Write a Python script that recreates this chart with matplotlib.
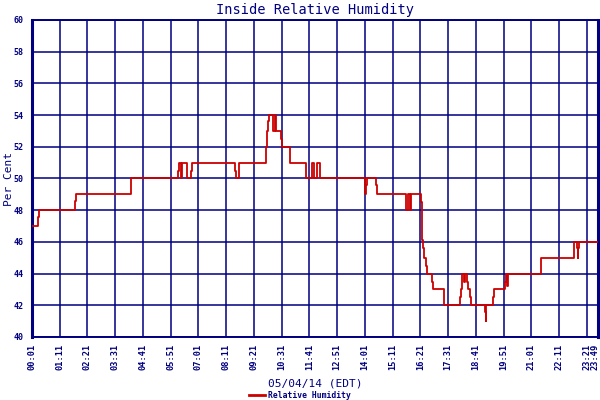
import matplotlib
matplotlib.use("Agg")
import matplotlib.pyplot as plt
import matplotlib.transforms as mtransforms
from matplotlib.lines import Line2D

# ---- data ----
times = ["00:01", "00:16", "00:18", "01:49", "01:52", "04:10", "04:12",
         "06:10", "06:13", "06:18", "06:20", "06:33", "06:43", "06:45",
         "08:33", "08:35", "08:43", "08:44", "09:51", "09:53", "09:56", "09:58",
         "10:09", "10:13", "10:17", "10:30", "10:32", "10:53", "11:32",
         "11:48", "11:52", "11:59", "12:07", "14:00", "14:02", "14:03", "14:05",
         "14:30", "14:32", "15:44", "15:49", "15:54", "15:57", "16:22",
         "16:24", "16:26", "16:28", "16:31", "16:34", "16:38", "16:49", "16:52",
         "17:21", "18:00", "18:03", "18:05", "18:07", "18:11", "18:14", "18:18",
         "18:22", "18:26", "18:29", "19:04", "19:06", "19:07", "19:24", "19:26",
         "19:55", "19:56", "20:00", "20:03", "21:25", "22:49", "22:56", "22:58",
         "22:59", "23:00", "23:49"]
humidity = [47.0, 47.55, 48.0, 48.6, 49.0, 49.6, 50.0,
            50.5, 51.0, 50.0, 51.0, 50.0, 50.5, 51.0,
            50.5, 50.0, 50.5, 51.0, 52.0, 53.0, 53.6, 54.0,
            53.0, 54.0, 53.0, 52.5, 52.0, 51.0, 50.0,
            51.0, 50.0, 51.0, 50.0, 49.6, 49.0, 49.6, 50.0,
            49.6, 49.0, 48.0, 49.0, 48.0, 49.0, 48.5,
            46.3, 46.1, 45.6, 45.0, 44.5, 44.0, 43.5, 43.0,
            42.0, 42.5, 43.0, 43.5, 44.0, 43.5, 44.0, 43.5,
            43.0, 42.5, 42.0, 41.6, 41.0, 42.0, 42.5, 43.0,
            43.5, 44.0, 43.2, 44.0, 45.0, 46.0, 45.6, 45.0,
            45.6, 46.0, 46.0]
tick_labels = ["00:01", "01:11", "02:21", "03:31", "04:41", "05:51", "07:01",
               "08:11", "09:21", "10:31", "11:41", "12:51", "14:01", "15:11",
               "16:21", "17:31", "18:41", "19:51", "21:01", "22:11", "23:21", "23:49"]
y_ticks = [40, 42, 44, 46, 48, 50, 52, 54, 56, 58, 60]


def to_min(s):
    h, m = s.split(":")
    return int(h) * 60 + int(m)


x = [to_min(t) for t in times]
xt = [to_min(t) for t in tick_labels]

NAVY = "#000080"
RED = "#cc0000"
MONO = "DejaVu Sans Mono"

fig = plt.figure(figsize=(6, 4), dpi=100)
ax = fig.add_axes([32 / 600, 1 - 337 / 400, 566 / 600, 317 / 400])

ax.plot(x, humidity, drawstyle="steps-post", color=RED, lw=1.3, zorder=3)

ax.set_xlim(xt[0], xt[-1])
ax.set_ylim(40, 60)
ax.set_xticks(xt)
tick_font = dict(fontsize=6.2, fontweight="bold", family=MONO, color=NAVY)
ax.set_xticklabels(tick_labels[:-1] + [""], rotation=90, **tick_font)
ax.set_yticks(y_ticks)
ax.set_yticklabels([str(v) for v in y_ticks], fontsize=6.0, fontweight="bold",
                   family=MONO, color=NAVY)
ax.tick_params(axis="x", length=0, pad=5)
ax.tick_params(axis="y", length=0, pad=6)
ax.grid(True, color=NAVY, lw=1.1, zorder=1)
ax.set_axisbelow(True)
for side, sp in ax.spines.items():
    sp.set_color(NAVY)
    sp.set_linewidth(2.2 if side in ("left", "right") else 1.4)

# last tick label at the right edge, nudged in so it stays inside the figure
edge_tr = mtransforms.offset_copy(ax.get_xaxis_transform(), fig=fig,
                                  x=-2.5, y=-6.5, units="dots")
ax.text(xt[-1], 0, tick_labels[-1], rotation=90, ha="center", va="top",
        transform=edge_tr, clip_on=False, **tick_font)

ax.set_title("Inside Relative Humidity", family=MONO, fontsize=9.8,
             color=NAVY, pad=4)
ax.set_ylabel("Per Cent", family=MONO, fontsize=8, color=NAVY)
ax.yaxis.set_label_coords((14 - 32) / 566, 0.5)
ax.set_xlabel("05/04/14 (EDT)", family=MONO, fontsize=8, color=NAVY)
ax.xaxis.set_label_coords(0.5, (337 - 378) / 317)

handle = Line2D([], [], color=RED, lw=2)
fig.legend([handle], ["Relative Humidity"], loc="center",
           bbox_to_anchor=(300 / 600, 1 - 395 / 400), frameon=False,
           prop={"family": MONO, "size": 5.8, "weight": "bold"},
           labelcolor=NAVY, handlelength=2.0, handletextpad=0.3)

fig.savefig("out.png", dpi=100)
